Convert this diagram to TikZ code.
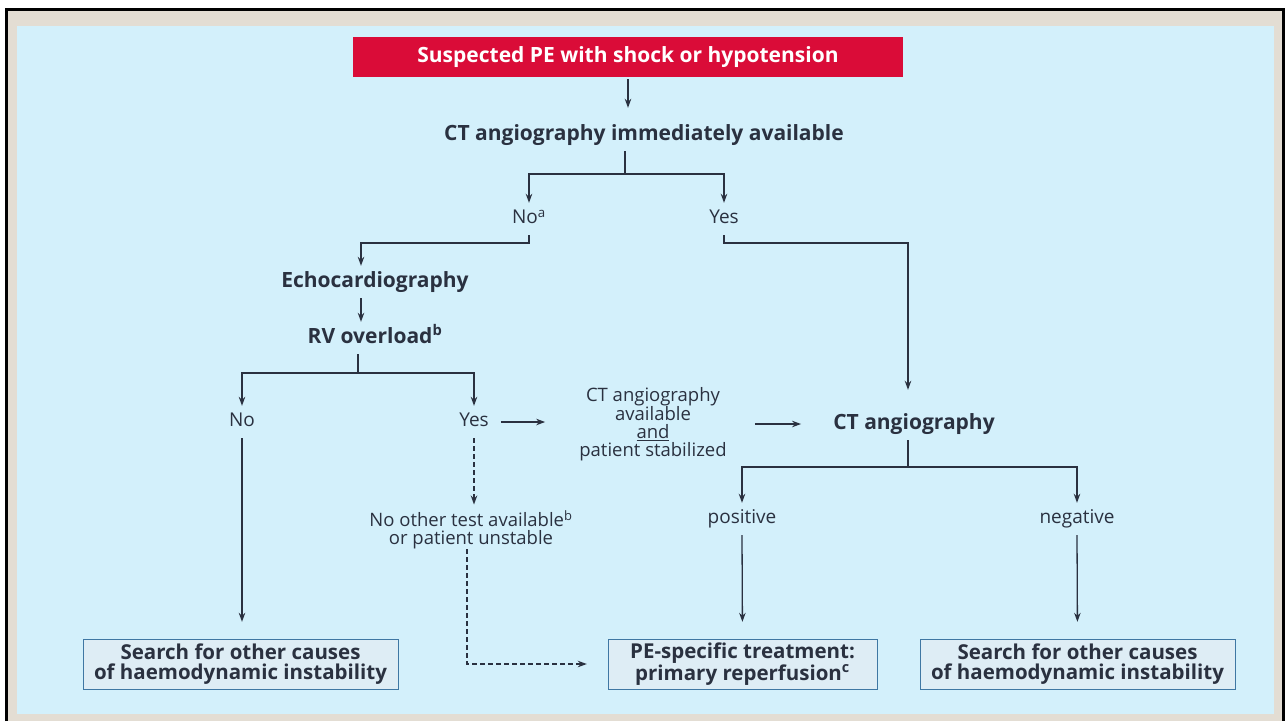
\documentclass[tikz,border=0pt]{standalone}
\usepackage{fontspec}
\setmainfont{Open Sans}
\usetikzlibrary{positioning,arrows.meta}
\definecolor{frame}{HTML}{E3DDD3}
\definecolor{panel}{HTML}{D3F0FB}
\definecolor{pered}{HTML}{DA0C38}
\definecolor{ink}{HTML}{2A3140}
\definecolor{boxfill}{HTML}{DEEDF5}
\definecolor{boxline}{HTML}{3F77A3}

\begin{document}
\begin{tikzpicture}[x=1pt, y=-1pt,
				head/.style={rectangle, fill=pered, text=white, font=\fontsize{21}{24}\selectfont\bfseries, minimum width=550pt, minimum height=40pt},
				title/.style={font=\fontsize{21}{24}\selectfont\bfseries, text=ink, minimum height=32pt, text height=15pt, text depth=5pt, inner sep=0pt},
				answer/.style={font=\fontsize{19}{21}\selectfont, text=ink, minimum height=32pt, text height=13pt, text depth=4pt, inner sep=0pt},
				note/.style={font=\fontsize{18.5}{18}\selectfont, text=ink, align=center, inner sep=0pt},
				result/.style={rectangle, draw=boxline, fill=boxfill, font=\fontsize{20.5}{20}\selectfont\bfseries, text=ink, align=center, minimum width=315pt, minimum height=50pt, inner sep=0pt},
				line/.style={draw=ink, line width=1.3pt},
				arr/.style={line, -{Stealth[length=9pt, width=6.5pt]}},
				dashline/.style={dash pattern=on 5pt off 3pt}
			]
			\useasboundingbox (0,0) rectangle (1288,721);
			% frame
			\fill[white] (0,0) rectangle (1288,721);
			\fill[frame] (6,9) rectangle (1283,721);
			\fill[panel] (17,26) rectangle (1274,714);
			\draw[black, line width=3pt] (6.5,721) -- (6.5,9) -- (1283,9) -- (1283,721);
			% nodes
			\node[head] (suspect) at (628,57) {Suspected PE with shock or hypotension};
			\node[title] (ctnow) at (644,135) {CT angiography immediately available};
			\node[answer] (noct) at (529,219) {No\textsuperscript{a}};
			\node[answer] (yesct) at (724,219) {Yes};
			\node[title] (echo) at (375,282) {Echocardiography};
			\node[title] (rv) at (375,338) {RV overload\textsuperscript{b}};
			\node[answer] (rvno) at (242,422) {No};
			\node[answer] (rvyes) at (474,422) {Yes};
			\node[note] (ctstab) at (653,424) {CT angiography\\available\\\underline{and}\\patient stabilized};
			\node[title] (ctscan) at (914,424) {CT angiography};
			\node[answer] (pos) at (742,519) {positive};
			\node[answer] (neg) at (1077,519) {negative};
			\node[note] (unstable) at (471,530) {No other test available\textsuperscript{b}\\or patient unstable};
			\node[result] (causesleft) at (240.5,664) {Search for other causes\\of haemodynamic instability};
			\node[result, minimum width=269pt] (reperf) at (742.5,664) {PE-specific treatment:\\primary reperfusion\textsuperscript{c}};
			\node[result] (causesright) at (1077.5,664) {Search for other causes\\of haemodynamic instability};
			\coordinate (ctsplit) at (625,174);
			\coordinate (nosplit) at (361,243);
			\coordinate (yessplit) at (908,243);
			\coordinate (rvsplit) at (358,373);
			\coordinate (scansplit) at (908,467);
			% connectors
			\draw[arr, shorten <=2pt, shorten >=11pt] (suspect.south) -- (suspect.south |- ctnow.north);
			\draw[line] (ctsplit |- ctnow.south) -- (ctsplit);
			\draw[arr] (ctsplit) -| (noct.north);
			\draw[arr] (ctsplit) -| (yesct.north);
			\draw[arr] (noct.south) |- (nosplit) -- (nosplit |- echo.north);
			\draw[arr] (nosplit |- echo.south) -- (nosplit |- rv.north);
			\draw[line] (rvsplit |- rv.south) -- (rvsplit);
			\draw[arr] (rvsplit) -| (rvno.north);
			\draw[arr] (rvsplit) -| (rvyes.north);
			\draw[arr, shorten >=17pt] (rvno.south) -- (rvno.south |- causesleft.north);
			\draw[arr, dashline, shorten >=6pt] (rvyes.south) -- (rvyes.south |- unstable.north);
			\draw[arr, dashline, shorten >=21pt] ([xshift=-4pt]unstable.south) |- (reperf.west);
			\draw[arr, shorten <=12pt, shorten >=34pt] (rvyes.east) -- (rvyes.east -| ctstab.west);
			\draw[arr, shorten <=28pt, shorten >=32pt] (ctstab.east |- ctscan.west) -- (ctscan.west);
			\draw[arr, shorten >=18pt] (yesct.south) |- (yessplit) -- (yessplit |- ctscan.north);
			\draw[line] (scansplit |- ctscan.south) -- (scansplit);
			\draw[arr] (scansplit) -| (pos.north);
			\draw[arr] (scansplit) -| (neg.north);
			\draw[arr, shorten >=17pt] (pos.south) -- (reperf.north);
			\draw[arr, shorten >=17pt] (neg.south) -- (causesright.north);
			\end{tikzpicture}
\end{document}
